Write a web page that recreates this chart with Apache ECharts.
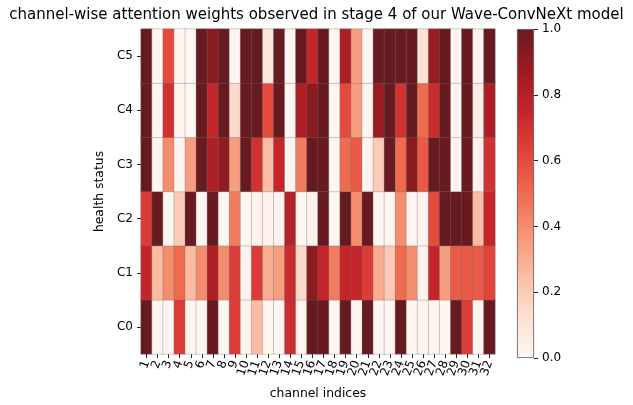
<!DOCTYPE html>
<html>
<head>
<meta charset="utf-8">
<script src="https://cdn.jsdelivr.net/npm/echarts@6/dist/echarts.min.js"></script>
<style>html,body{margin:0;padding:0;background:#fff}#c{width:633px;height:405px}</style>
</head>
<body>
<div id="c"></div>
<script>
var channels = [];
for (var k = 1; k <= 32; k++) channels.push(String(k));
var statuses = ['C0', 'C1', 'C2', 'C3', 'C4', 'C5'];
var rowC0 = [1,0,0,0.65,0,0,1,0,0.65,0,0.25,0,0,0.72,0,1, 1,0,1,0,1,0,0,1,0,0,0,0,1,0.65,0,1];
var rowC1 = [0.75,0.25,0.4,0.5,0.25,0.4,0.82,0.4,0.65,0.02,0.65,0.3,0.35,0.72,0.15,0.92, 0.75,0.45,0.75,0.75,0.65,0.3,0.2,0.5,0.4,0.02,0.75,0.35,0.55,0.55,0.55,0.62];
var rowC2 = [0.65,1,0,0.2,1,0,1,0,0.45,0,0.02,0.02,0.02,0.8,0,0.02, 1,0,1,0.4,1,0,0,0.4,0,0,0.6,1,1,1,0.25,0.75];
var rowC3 = [1,0,0.4,0,0.35,1,0.82,0.9,0.35,1,0.7,0.25,0.75,0,0.45,1, 1,0,0.5,0.55,0,0.2,1,0.5,0.92,0.55,1,1,0,1,0.02,0.7];
var rowC4 = [1,0,0.7,0,0,1,0.75,1,0.15,1,1,0.6,1,0,0.82,0.92, 1,0,0.6,0.35,0,0.88,1,0.7,1,0.5,0.72,1,0,1,0.05,0.82];
var rowC5 = [1,0,0.6,0,0,1,0.92,1,0,1,1,0.1,1,0,1,0.75, 1,0,0.82,0.35,0,1,1,1,1,0.12,0.88,1,0,1,0.02,1];
var colorbarTicks = [0, 0.2, 0.4, 0.6, 0.8, 1.0];

var rows = [rowC0, rowC1, rowC2, rowC3, rowC4, rowC5];
var data = [];
rows.forEach(function (r, yi) {
  r.forEach(function (v, xi) { data.push([xi, yi, v]); });
});

// matplotlib "Reds"-like colormap, slightly muted
var cmap = ['#fff5f0','#fde1d4','#fabda4','#f59576','#ee6b50','#e2423a','#c4252b','#9c1b21','#671b21'];
var gradStops = cmap.map(function (c, i) { return { offset: 1 - i / (cmap.length - 1), color: c }; }).reverse();

var font = 'DejaVu Sans';
var chart = echarts.init(document.getElementById('c'), null, { renderer: 'canvas' });
chart.setOption({
  animation: false,
  backgroundColor: '#fff',
  title: {
    text: 'channel-wise attention weights observed in stage 4 of our Wave-ConvNeXt model',
    left: 'center', top: 3,
    textStyle: { fontFamily: font, fontSize: 15, fontWeight: 'normal', color: '#000' }
  },
  grid: [
    { left: 141, top: 29, width: 354, height: 329 },
    { left: 517, top: 29, width: 17, height: 329 }
  ],
  xAxis: [
    {
      type: 'category', gridIndex: 0, data: channels,
      name: 'channel indices', nameLocation: 'middle', nameGap: 34,
      nameTextStyle: { fontFamily: font, fontSize: 12.4, color: '#000' },
      axisLine: { show: false },
      axisTick: { show: true, alignWithLabel: true, length: 4, lineStyle: { color: '#222', width: 1 } },
      axisLabel: { rotate: 70, margin: 7, fontFamily: font, fontSize: 12, color: '#000', interval: 0 },
      splitLine: { show: false }
    },
    { type: 'category', gridIndex: 1, data: [''], show: false }
  ],
  yAxis: [
    {
      type: 'category', gridIndex: 0, data: statuses,
      name: 'health status', nameLocation: 'middle', nameGap: 31,
      nameTextStyle: { fontFamily: font, fontSize: 12.4, color: '#000' },
      axisLine: { show: false },
      axisTick: { show: true, alignWithLabel: true, length: 4, lineStyle: { color: '#222', width: 1 } },
      axisLabel: { margin: 8, fontFamily: font, fontSize: 12, color: '#000' },
      splitLine: { show: false }
    },
    {
      type: 'value', gridIndex: 1, position: 'right', min: 0, max: 1, interval: 0.2,
      axisLine: { show: false },
      axisTick: { show: true, length: 4, lineStyle: { color: '#222', width: 1 } },
      axisLabel: { margin: 8, fontFamily: font, fontSize: 12, color: '#000',
        formatter: function (v) { return colorbarTicks.indexOf(+v.toFixed(1)) >= 0 ? v.toFixed(1) : ''; } },
      splitLine: { show: false }
    }
  ],
  visualMap: {
    show: false, min: 0, max: 1, seriesIndex: 0, dimension: 2,
    inRange: { color: cmap }
  },
  series: [
    {
      type: 'heatmap', xAxisIndex: 0, yAxisIndex: 0, data: data,
      itemStyle: { borderColor: 'rgba(110,110,110,0.55)', borderWidth: 0.6 },
      emphasis: { disabled: true }
    },
    {
      type: 'bar', xAxisIndex: 1, yAxisIndex: 1, data: [1], barWidth: '100%',
      itemStyle: {
        color: { type: 'linear', x: 0, y: 0, x2: 0, y2: 1, colorStops: gradStops },
        borderColor: '#555', borderWidth: 0.8
      },
      silent: true
    }
  ]
});
</script>
</body>
</html>
